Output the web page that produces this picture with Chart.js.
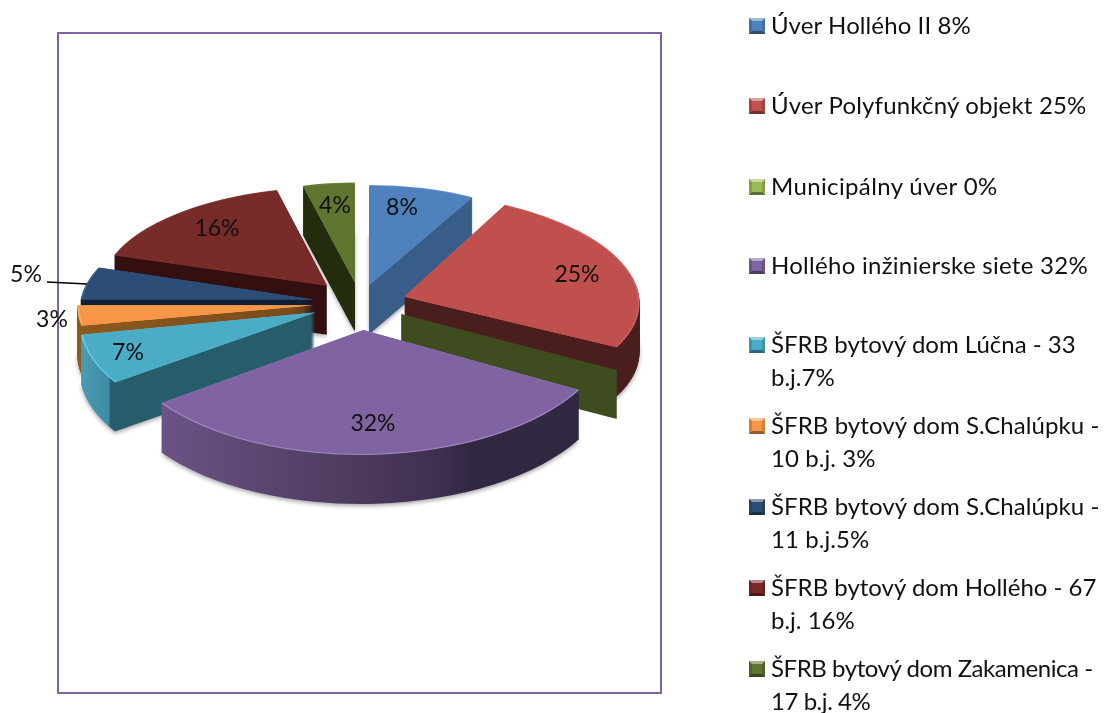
<!DOCTYPE html>
<html>
<head>
<meta charset="utf-8">
<script src="https://cdn.jsdelivr.net/npm/chart.js@4"></script>
<style>
  html, body { margin: 0; padding: 0; background: #fff; }
  #page { position: relative; width: 1112px; height: 713px; overflow: hidden; font-family: Lato, sans-serif; color: #111; }
  #frame { position: absolute; left: 57px; top: 32px; width: 601px; height: 658px; border: 2px solid #8064a2; }
  #pie { position: absolute; left: 0; top: 0; }
  .row { position: absolute; left: 771px; font-size: 24px; line-height: 33px; white-space: pre; }
  .box { position: absolute; left: 749px; width: 10px; height: 10px; border: 3px solid; }
</style>
</head>
<body>
<div id="page">
  <div id="frame"></div>
  <canvas id="pie" width="1112" height="713"></canvas>
</div>
<script>
const legendLabels = [
  'Úver Hollého II 8%',
  'Úver Polyfunkčný objekt 25%',
  'Municipálny úver 0%',
  'Hollého inžinierske siete 32%',
  'ŠFRB bytový dom Lúčna - 33\nb.j.7%',
  'ŠFRB bytový dom S.Chalúpku -\n10 b.j. 3%',
  'ŠFRB bytový dom S.Chalúpku -\n11 b.j.5%',
  'ŠFRB bytový dom Hollého - 67\nb.j. 16%',
  'ŠFRB bytový dom Zakamenica -\n17 b.j. 4%'
];
const sliceValues = [8, 25, 0, 32, 7, 3, 5, 16, 4];
const sliceColors = ['#4f81bd', '#c0504d', '#9bbb59', '#8064a2', '#4bacc6', '#f79646', '#2c4d75', '#772c2a', '#5f7530'];
const legendTops = [8, 88, 169, 248, 327, 408, 489, 570, 651];
const legendSpacing = [0.1, 0.18, 0.37, 0.28, 0, 0.07, 0.07, 0, -0.45];

// look of the 3d pie: each slice has its own ellipse because of the perspective
const explode = [38, 46, 47, 55, 49, 47, 47, 48, 42];
const sliceRx = [214, 235, 246, 248, 235, 236, 233, 226, 209];
const sliceRy = [100, 105, 116, 125, 119, 110, 103, 99, 100];
const sliceSkew = [0, 14, 0, -3, -17, 0, -21, -6, 0];
const wallStops = [
  [[-1, '#375d88'], [1, '#375d88']],
  [[-1, '#4b1e1e'], [1, '#4b1e1e']],
  [[-1, '#3f4c20'], [1, '#3f4c20']],
  [[-0.85, '#6d5489'], [-0.3, '#574369'], [0.3, '#3f3053'], [0.45, '#322741'], [1, '#322741']],
  [[-1, '#4b9db6'], [-0.84, '#3e8ca4'], [-0.83, '#275c6b'], [1, '#275c6b']],
  [[-1, '#8a5a1e'], [1, '#673b17']],
  [[-1, '#0f1e33'], [1, '#0f1e33']],
  [[-1, '#33100f'], [1, '#33100f']],
  [[-1, '#242c0e'], [1, '#242c0e']]
];
const rimLights = ['#5f91cd', '#cc5f5c', '#9bbb59', '#a088c4', '#62cbe6', '#ffab5e', '#3a5d87', '#83383a', '#6b8238'];
const drawOrder = [8, 0, 7, 1, 6, 5, 4, 2, 3];
const labelPos = [[402, 208], [577, 275], null, [373, 424], [128, 353], [52, 320], [26, 275], [217, 229], [335, 206]];
const CX = 360, CY = 303, TILT = 0.49, DEPTH = 49;

function sliceGeom(arc, i) {
  const mid = (arc.startAngle + arc.endAngle) / 2;
  const c = Math.cos(mid), s = Math.sin(mid), off = explode[i];
  return { c, s, tipX: CX + c * off, tipY: CY + s * off * TILT };
}

function drawArc(ctx, arc, i, g, lift, shrink, fill) {
  const R = arc.outerRadius;
  const keep = arc.options;
  ctx.save();
  ctx.translate(g.tipX, g.tipY + lift);
  ctx.transform(sliceRx[i] / R * shrink, 0, sliceSkew[i] / R * shrink, sliceRy[i] / R * shrink, 0, 0);
  ctx.translate(-arc.x, -arc.y);
  arc.options = Object.assign({}, keep, { backgroundColor: fill });
  arc.draw(ctx);
  arc.options = keep;
  ctx.restore();
}

const pie3d = {
  id: 'pie3d',
  beforeDatasetsDraw(chart) {
    const ctx = chart.ctx;
    const arcs = chart.getDatasetMeta(0).data;
    drawOrder.forEach(i => {
      const arc = arcs[i];
      const g = sliceGeom(arc, i);
      if (sliceValues[i] === 0) {
        // empty slice still shows one wall
        const ex = g.tipX + g.c * sliceRx[i], ey = g.tipY + g.s * sliceRy[i];
        ctx.fillStyle = wallStops[i][0][1];
        ctx.beginPath();
        ctx.moveTo(g.tipX, g.tipY);
        ctx.lineTo(ex, ey);
        ctx.lineTo(ex, ey + DEPTH);
        ctx.lineTo(g.tipX, g.tipY + DEPTH);
        ctx.closePath();
        ctx.fill();
        return;
      }
      const grad = ctx.createLinearGradient(arc.x - arc.outerRadius, 0, arc.x + arc.outerRadius, 0);
      wallStops[i].forEach(st => grad.addColorStop((st[0] + 1) / 2, st[1]));
      ctx.save();
      ctx.shadowColor = 'rgba(0,0,0,0.35)';
      ctx.shadowBlur = 4;
      ctx.shadowOffsetY = 2;
      drawArc(ctx, arc, i, g, DEPTH, 1, grad);
      ctx.restore();
      for (let d = DEPTH - 1; d > 0; d--) drawArc(ctx, arc, i, g, d, 1, grad);
      drawArc(ctx, arc, i, g, 0, 1, rimLights[i]);
      drawArc(ctx, arc, i, g, 0, 0.992, sliceColors[i]);
    });
    return false;
  },
  afterDraw(chart) {
    const ctx = chart.ctx;
    ctx.save();
    // leader line of the 5% label
    ctx.strokeStyle = '#000';
    ctx.lineWidth = 1.5;
    ctx.beginPath();
    ctx.moveTo(47, 282);
    ctx.lineTo(87, 284);
    ctx.stroke();
    ctx.fillStyle = '#111';
    ctx.font = '23px Lato';
    ctx.textAlign = 'center';
    ctx.textBaseline = 'middle';
    sliceValues.forEach((v, i) => {
      if (labelPos[i]) ctx.fillText(v + '%', labelPos[i][0], labelPos[i][1]);
    });
    ctx.restore();
  }
};

new Chart(document.getElementById('pie'), {
  type: 'pie',
  data: {
    labels: legendLabels,
    datasets: [{
      data: sliceValues,
      backgroundColor: sliceColors,
      borderWidth: 0
    }]
  },
  options: {
    responsive: false,
    animation: false,
    plugins: { legend: { display: false }, tooltip: { enabled: false } }
  },
  plugins: [pie3d]
});

function shade(hex, f) {
  const n = parseInt(hex.slice(1), 16);
  const ch = [n >> 16, (n >> 8) & 255, n & 255].map(v => {
    const o = f < 1 ? v * f : v + (255 - v) * (f - 1);
    return Math.round(o);
  });
  return 'rgb(' + ch.join(',') + ')';
}

const page = document.getElementById('page');
legendLabels.forEach((text, i) => {
  const row = document.createElement('div');
  row.className = 'row';
  row.style.top = legendTops[i] + 'px';
  row.style.letterSpacing = legendSpacing[i] + 'px';
  row.textContent = text;
  page.appendChild(row);
  const box = document.createElement('div');
  box.className = 'box';
  box.style.top = (legendTops[i] + 10) + 'px';
  box.style.background = sliceColors[i];
  box.style.borderColor = shade(sliceColors[i], 1.45) + ' ' + shade(sliceColors[i], 0.85) + ' ' + shade(sliceColors[i], 0.6) + ' ' + shade(sliceColors[i], 0.85);
  page.appendChild(box);
});
</script>
</body>
</html>
